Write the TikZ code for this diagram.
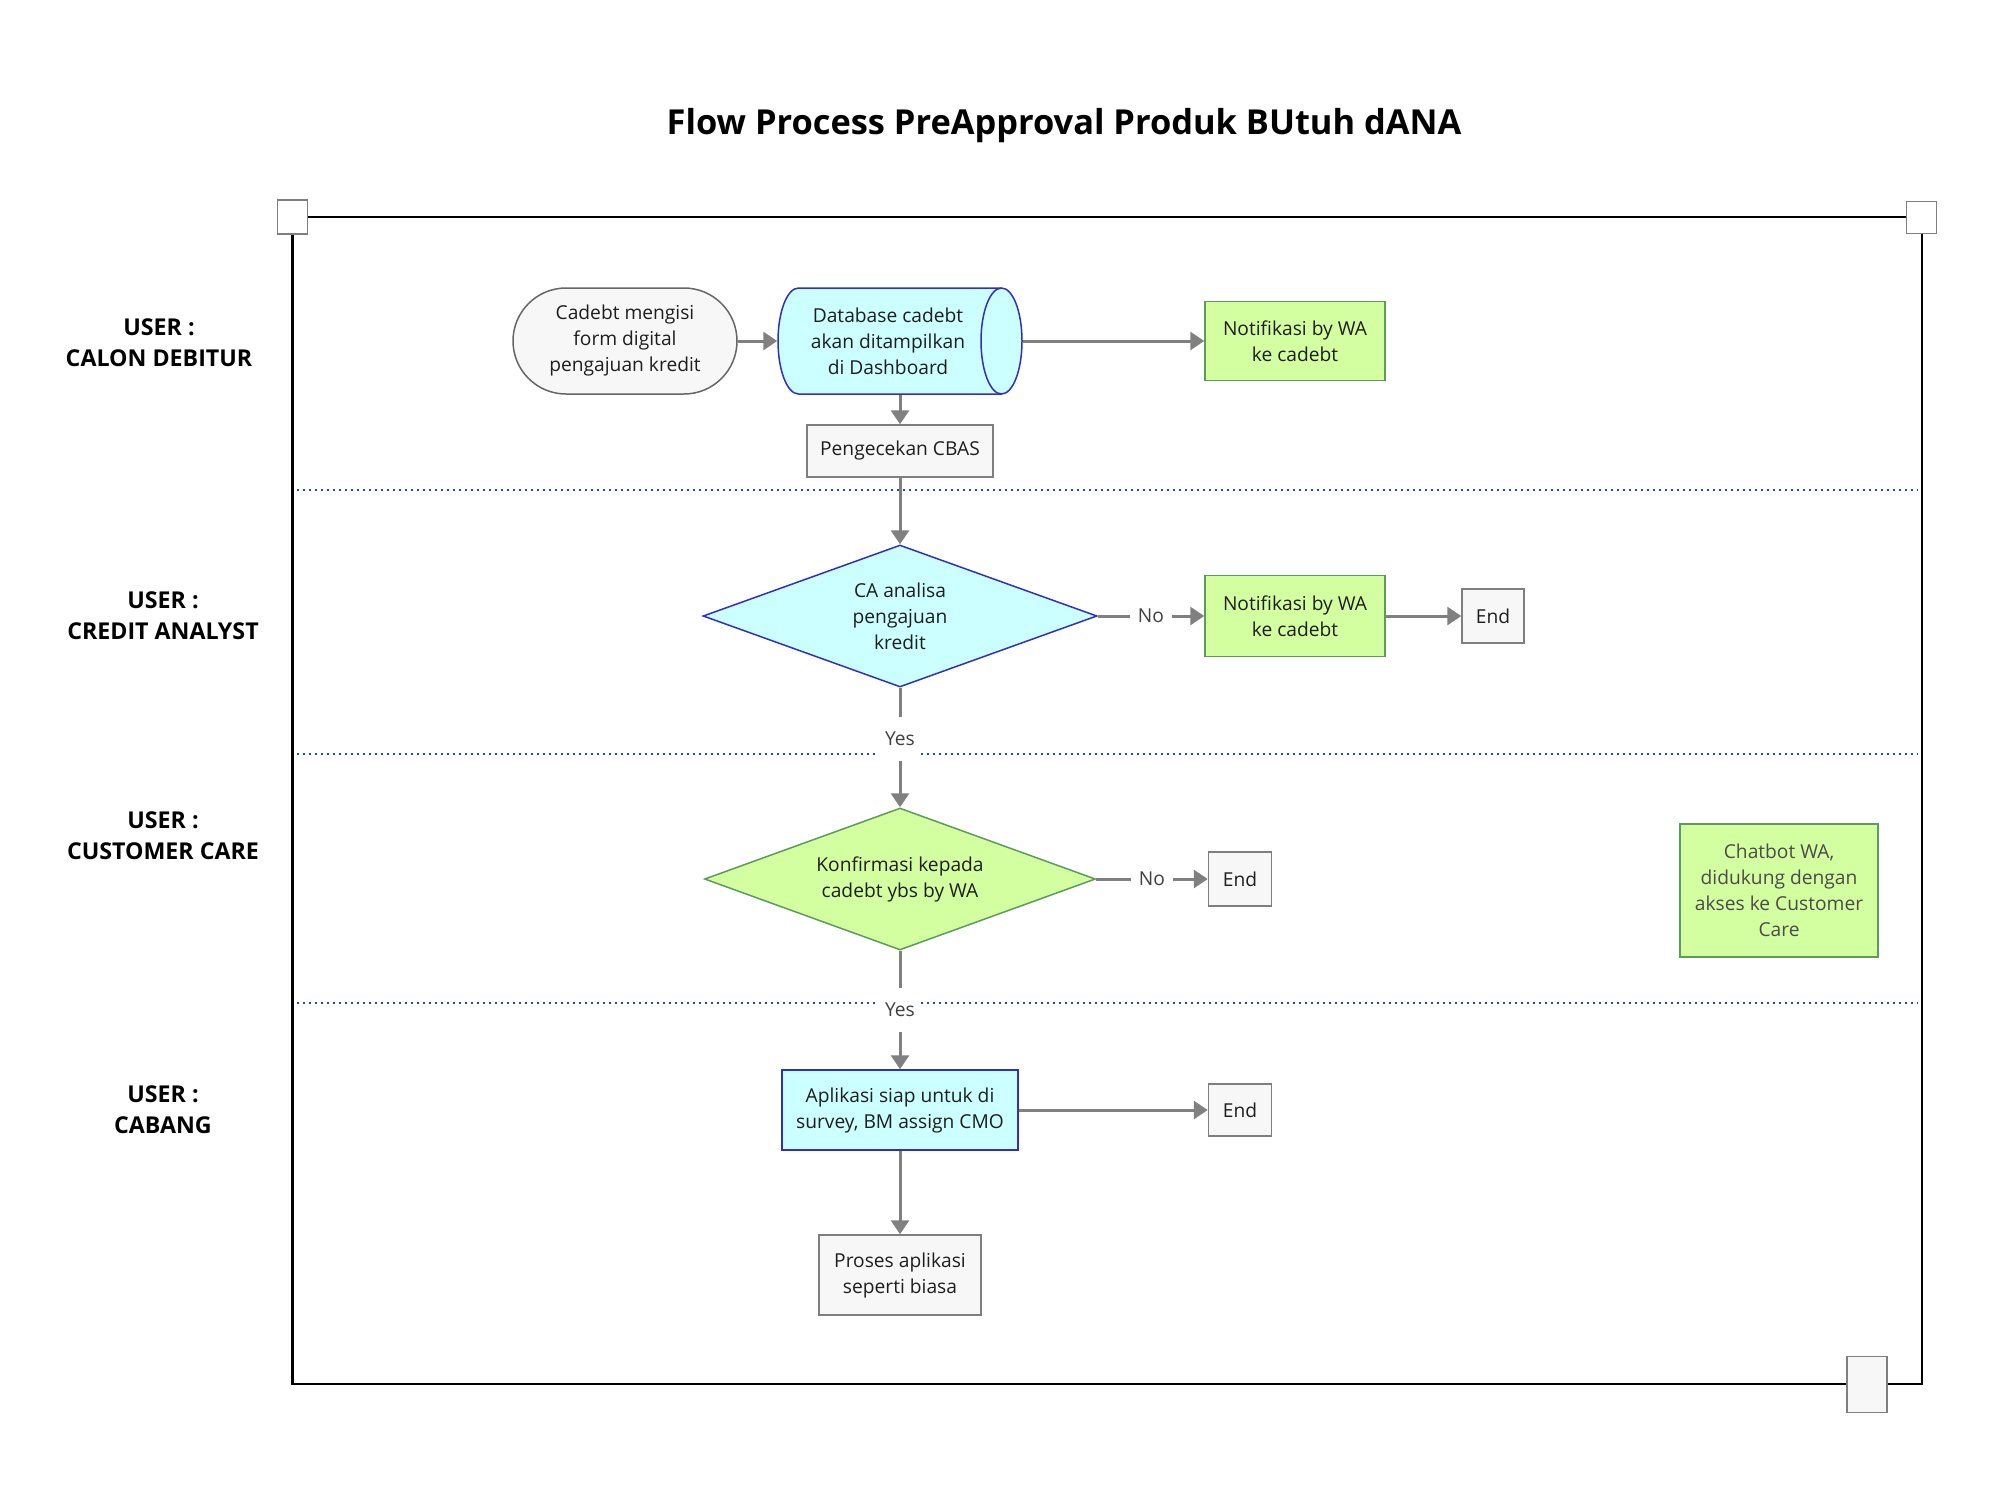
\documentclass[tikz,border=0pt]{standalone}
\usepackage{fontspec}
\setmainfont{Open Sans}
\usetikzlibrary{shapes.geometric,arrows.meta}
\definecolor{boxfill}{HTML}{F7F7F7}
\definecolor{boxline}{HTML}{7F7F7F}
\definecolor{cyanfill}{HTML}{CCFFFF}
\definecolor{blueline}{HTML}{2F2FC8}
\definecolor{greenfill}{HTML}{D4FFA0}
\definecolor{greenline}{HTML}{5B9B5B}
\definecolor{txt}{HTML}{1E1E1E}
\definecolor{arrgray}{HTML}{808080}
\definecolor{lanecol}{HTML}{2E4C8A}
\begin{document}
\begin{tikzpicture}[x=0.5pt,y=-0.5pt,
  base/.style={line width=0.75pt, align=center, inner sep=0pt, text=txt,
    font=\fontsize{9.6}{13}\selectfont},
  graybox/.style={base, rectangle, draw=boxline, fill=boxfill},
  greenbox/.style={base, rectangle, draw=greenline, fill=greenfill},
  bluebox/.style={base, rectangle, draw=blueline, fill=cyanfill},
  terminal/.style={base, rectangle, rounded corners=26.5pt, draw=boxline!80!black, fill=boxfill},
  bluedia/.style={base, diamond, draw=blueline, fill=cyanfill},
  greendia/.style={base, diamond, draw=greenline, fill=greenfill},
  arr/.style={draw=arrgray, line width=1.5pt, -{Triangle[length=7pt,width=9pt]}},
  lbl/.style={fill=white, inner sep=0pt, minimum width=21pt, minimum height=22pt,
    text=txt!85, font=\fontsize{9.6}{13}\selectfont},
  lane/.style={draw=lanecol, line width=1pt, dash pattern=on 1pt off 2pt},
  lanetxt/.style={align=center, text=black, font=\fontsize{11.6}{15.5}\selectfont\bfseries},
  corner/.style={draw=boxline, line width=0.75pt, fill=white, inner sep=0pt}
]
\useasboundingbox (0,0) rectangle (2000,1500);

% title
\node[font=\fontsize{17.2}{21}\selectfont\bfseries, text=black] (title) at (1064,126)
  {Flow Process PreApproval Produk BUtuh dANA};

% frame
\draw[line width=1.3pt, black] (292.7,217) -- (1922,217) -- (1922,1384) -- (292.7,1384) -- cycle;
\node[corner, minimum width=15pt, minimum height=17pt] (sqtl) at (292.7,217) {};
\node[corner, minimum width=15pt, minimum height=16pt] (sqtr) at (1921.5,217.5) {};
\node[corner, fill=boxfill, minimum width=20pt, minimum height=28pt] (sqbr) at (1867,1384.5) {};

% lane separators
\draw[lane] (297,490) -- (1918,490);
\draw[lane] (297,754) -- (1918,754);
\draw[lane] (297,1002.5) -- (1918,1002.5);

% lane labels
\node[lanetxt] (l1) at (159,343) {USER :\\CALON DEBITUR};
\node[lanetxt] (l2) at (163,616) {USER :\\CREDIT ANALYST};
\node[lanetxt] (l3) at (163,835.5) {USER :\\CUSTOMER CARE};
\node[lanetxt] (l4) at (163,1109.5) {USER :\\CABANG};

% nodes
\node[terminal, minimum width=112pt, minimum height=53pt] (start) at (625,341)
  {Cadebt mengisi\\form digital\\pengajuan kredit};

% cylinder
\path[fill=cyanfill, draw=blueline, line width=0.75pt]
  (798.5,288) -- (1001.5,288) arc[start angle=90, end angle=-90, x radius=10.25pt, y radius=26.5pt]
  -- (798.5,394) arc[start angle=270, end angle=90, x radius=10.25pt, y radius=26.5pt] -- cycle;
\draw[blueline, line width=0.75pt] (1001.5,288) arc[start angle=90, end angle=270, x radius=10.25pt, y radius=26.5pt];
\node[base, minimum width=122pt, minimum height=53pt] (db) at (900,341) {};
\node[base] (dbtxt) at (888,341) {Database cadebt\\akan ditampilkan\\di Dashboard};

\node[greenbox, minimum width=90pt, minimum height=39.5pt] (notif1) at (1295,341)
  {Notifikasi by WA\\ke cadebt};
\node[graybox, minimum width=93pt, minimum height=26pt] (cbas) at (900,451) {Pengecekan CBAS};
\node[bluedia, aspect=2.77, minimum width=197pt, minimum height=71pt] (ca) at (900,616)
  {CA analisa\\pengajuan\\kredit};
\node[greenbox, minimum width=90pt, minimum height=40.5pt] (notif2) at (1295,616)
  {Notifikasi by WA\\ke cadebt};
\node[graybox, minimum width=31pt, minimum height=27pt] (end1) at (1493,616) {End};
\node[greendia, aspect=2.75, minimum width=195.5pt, minimum height=71pt] (kon) at (900,879)
  {Konfirmasi kepada\\cadebt ybs by WA};
\node[graybox, minimum width=31.5pt, minimum height=27pt] (end2) at (1240,879) {End};
\node[greenbox, text=txt!80, minimum width=99pt, minimum height=66.5pt] (chat) at (1779,890.5)
  {Chatbot WA,\\didukung dengan\\akses ke Customer\\Care};
\node[bluebox, minimum width=118pt, minimum height=40pt] (apl) at (900,1110)
  {Aplikasi siap untuk di\\survey, BM assign CMO};
\node[graybox, minimum width=31.5pt, minimum height=26pt] (end3) at (1240,1110) {End};
\node[graybox, minimum width=81pt, minimum height=40pt] (proses) at (900,1275)
  {Proses aplikasi\\seperti biasa};

% connectors
\draw[arr] (start.east) -- (db.west);
\draw[arr] (db.east) -- (notif1.west);
\draw[arr] (db.south) -- (cbas.north);
\draw[arr] (cbas.south) -- (ca.north);
\draw[arr] (ca.east) -- node[lbl] (no1) {No} (notif2.west);
\draw[arr] (notif2.east) -- (end1.west);
\draw[arr] (ca.south) -- node[lbl, pos=0.43] (yes1) {Yes} (kon.north);
\draw[arr] (kon.east) -- node[lbl] (no2) {No} (end2.west);
\draw[arr] (kon.south) -- node[lbl] (yes2) {Yes} (apl.north);
\draw[arr] (apl.east) -- (end3.west);
\draw[arr] (apl.south) -- (proses.north);
\end{tikzpicture}
\end{document}
